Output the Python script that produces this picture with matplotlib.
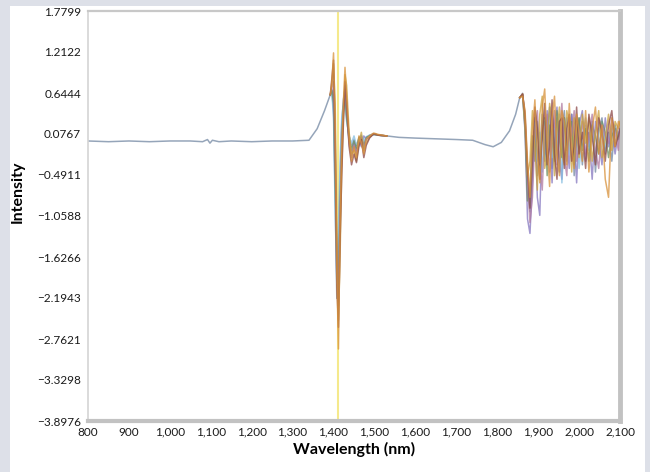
import matplotlib
matplotlib.use('Agg')
import matplotlib.pyplot as plt
from matplotlib.patches import Rectangle

plt.rcParams['font.family'] = ['Lato', 'DejaVu Sans']

# ---- data ----
x_ticks = [800, 900, 1000, 1100, 1200, 1300, 1400, 1500, 1600, 1700, 1800, 1900, 2000, 2100]
y_ticks = [1.7799, 1.2122, 0.6444, 0.0767, -0.4911, -1.0588, -1.6266, -2.1943, -2.7621, -3.3298, -3.8976]
marker_wl = 1410

# shared flat baseline, left part and middle part
wl_left = [800, 850, 900, 950, 1000, 1050, 1080, 1092, 1098, 1104, 1120, 1150, 1200, 1250, 1300, 1340, 1360, 1378, 1392]
base_left = [-0.02, -0.03, -0.02, -0.03, -0.02, -0.02, -0.03, 0.00, -0.05, -0.01, -0.03, -0.02, -0.03, -0.02, -0.02, -0.01, 0.15, 0.40, 0.62]
wl_mid = [1530, 1560, 1600, 1650, 1700, 1740, 1770, 1790, 1810, 1830, 1845, 1855]
base_mid = [0.05, 0.03, 0.02, 0.01, 0.00, -0.01, -0.07, -0.10, -0.04, 0.12, 0.35, 0.58]

# first absorption band (~1400-1530 nm)
wl1 = [1392, 1396, 1400, 1404, 1408, 1412, 1416, 1420, 1424, 1428, 1432, 1438,
       1444, 1450, 1456, 1462, 1468, 1474, 1480, 1488, 1498, 1510, 1530]
band1 = {
    'gray':   [0.62, 0.66, 0.40, -0.80, -2.20, -1.60, -0.60, 0.20, 0.55, 0.70, 0.40, 0.05, -0.10, 0.00, -0.15, -0.05, 0.05, -0.10, 0.02, 0.06, 0.08, 0.06, 0.05],
    'purple': [0.62, 0.70, 0.60, -0.40, -1.90, -2.30, -0.90, 0.10, 0.40, 0.55, 0.35, -0.05, -0.25, -0.05, -0.20, 0.00, -0.10, 0.05, 0.00, 0.04, 0.07, 0.06, 0.05],
    'orange': [0.62, 0.80, 1.20, 0.20, -1.80, -2.90, -1.20, -0.20, 0.50, 1.00, 0.60, 0.00, -0.30, -0.10, -0.25, 0.05, -0.05, -0.20, 0.00, 0.05, 0.09, 0.07, 0.05],
    'gold':   [0.62, 0.75, 1.05, 0.50, -1.20, -2.50, -1.60, -0.40, 0.30, 0.90, 0.75, 0.10, -0.20, -0.15, -0.30, -0.05, 0.10, -0.15, -0.05, 0.03, 0.08, 0.06, 0.05],
    'lblue':  [0.62, 0.64, 0.30, -1.00, -2.00, -1.20, -0.30, 0.30, 0.50, 0.45, 0.25, 0.05, -0.05, 0.05, -0.08, 0.02, 0.06, -0.02, 0.04, 0.06, 0.07, 0.06, 0.05],
    'brown':  [0.62, 0.85, 1.10, 0.00, -2.00, -2.60, -1.40, -0.50, 0.20, 0.80, 0.50, -0.10, -0.35, -0.20, -0.32, -0.10, 0.00, -0.25, -0.08, 0.02, 0.08, 0.06, 0.05],
    'green':  [0.62, 0.68, 0.50, -0.60, -1.60, -2.00, -1.00, 0.00, 0.45, 0.60, 0.30, 0.00, -0.15, -0.02, -0.12, 0.03, 0.02, -0.08, 0.03, 0.05, 0.07, 0.06, 0.05],
    'mauve':  [0.62, 0.72, 0.80, -0.20, -1.50, -2.20, -1.10, -0.10, 0.35, 0.75, 0.45, 0.02, -0.22, -0.08, -0.22, -0.02, 0.04, -0.12, 0.01, 0.04, 0.08, 0.06, 0.05],
}

# second band (~1860-2100 nm)
wl2 = [1855, 1862, 1868, 1874, 1880, 1886, 1892, 1898, 1904, 1910, 1916, 1922, 1928,
       1934, 1940, 1946, 1952, 1958, 1964, 1970, 1976, 1982, 1988, 1994, 2000, 2008,
       2016, 2024, 2032, 2040, 2048, 2056, 2064, 2072, 2080, 2088, 2096, 2100]
band2 = {
    'gray':   [0.58, 0.64, 0.30, -0.70, -1.00, -0.40, 0.20, -0.50, -0.20, 0.35, -0.30, 0.10, 0.45,
               -0.40, 0.00, 0.30, -0.45, 0.10, 0.40, -0.30, 0.05, 0.35, -0.50, 0.00, 0.30, -0.35,
               0.20, -0.10, 0.25, -0.45, 0.15, 0.30, -0.20, 0.10, -0.30, 0.20, 0.05, 0.10],
    'purple': [0.58, 0.62, 0.10, -1.10, -1.30, -0.60, 0.30, -0.80, -1.05, 0.20, -0.20, 0.40, 0.10,
               -0.60, 0.20, 0.45, -0.30, -0.55, 0.30, 0.00, -0.40, 0.35, 0.05, -0.60, 0.20, 0.40,
               -0.30, 0.10, -0.55, 0.25, 0.00, -0.35, 0.30, -0.10, 0.15, -0.20, 0.10, 0.05],
    'orange': [0.58, 0.60, 0.40, -0.30, -0.80, 0.10, 0.55, -0.20, -0.60, 0.45, 0.70, -0.10, -0.65,
               0.30, 0.60, -0.20, -0.50, 0.40, 0.25, -0.35, 0.50, -0.10, -0.40, 0.35, 0.10, -0.30,
               0.40, -0.45, 0.15, 0.45, -0.20, 0.20, -0.55, -0.80, 0.30, -0.10, 0.25, 0.20],
    'gold':   [0.58, 0.63, 0.20, -0.50, -0.30, 0.40, -0.10, -0.70, 0.35, 0.60, -0.40, -0.20, 0.50,
               0.25, -0.50, 0.10, 0.45, -0.20, -0.35, 0.40, 0.20, -0.45, 0.30, 0.15, -0.25, 0.35,
               -0.05, 0.30, -0.30, 0.10, 0.40, -0.25, 0.00, 0.35, -0.15, 0.25, 0.15, 0.25],
    'lblue':  [0.58, 0.61, 0.25, -0.60, -0.90, -0.20, 0.30, -0.30, 0.10, -0.45, 0.25, -0.10, 0.30,
               -0.25, 0.15, -0.15, 0.35, -0.60, 0.05, 0.30, -0.20, 0.10, -0.30, 0.25, -0.40, 0.05,
               0.30, -0.15, 0.20, -0.25, 0.10, 0.25, -0.10, 0.05, 0.20, -0.05, 0.10, 0.05],
    'brown':  [0.58, 0.63, 0.35, -0.40, -0.95, -0.30, 0.45, 0.15, -0.55, 0.05, 0.50, -0.35, -0.10,
               0.55, -0.20, -0.55, 0.25, 0.30, -0.40, 0.15, 0.35, -0.30, -0.10, 0.45, -0.20, 0.10,
               -0.40, 0.35, 0.05, -0.35, 0.30, 0.10, -0.30, 0.20, 0.40, -0.10, 0.05, 0.15],
    'green':  [0.58, 0.62, 0.15, -0.85, -0.70, 0.05, -0.30, 0.25, -0.35, 0.10, 0.30, -0.50, 0.20,
               0.05, -0.30, 0.40, 0.00, -0.25, 0.30, -0.15, 0.10, 0.25, -0.35, 0.05, 0.30, -0.15,
               0.15, -0.30, 0.20, 0.05, -0.20, 0.25, 0.10, -0.25, 0.05, 0.15, 0.00, 0.10],
    'mauve':  [0.58, 0.63, 0.30, -0.55, -1.15, -0.80, 0.05, 0.40, -0.25, -0.70, 0.15, 0.35, -0.45,
               0.00, 0.40, -0.35, 0.10, 0.50, -0.25, -0.50, 0.30, 0.05, 0.40, -0.30, -0.10, 0.25,
               -0.20, 0.00, 0.35, -0.15, -0.40, 0.20, 0.05, -0.05, 0.30, 0.10, -0.15, 0.25],
}

colors = {
    'gray': '#8a9bb2', 'purple': '#8577c0', 'orange': '#d8913a', 'gold': '#c9a03c',
    'lblue': '#86bde0', 'brown': '#8c4848', 'green': '#6f8f5f', 'mauve': '#b07aa1',
}

# ---- figure ----
fig = plt.figure(figsize=(6.5, 4.72), dpi=100, facecolor='#dde0e8')
# white panel behind the axes
fig.patches.append(Rectangle((10 / 650, 0), 635 / 650, 466 / 472, transform=fig.transFigure,
                             facecolor='white', edgecolor='none', zorder=-5))

ax = fig.add_axes([88 / 650, 1 - 421 / 472, 532 / 650, 410 / 472])
ax.set_zorder(2)
ax.set_facecolor('white')

ax.axvline(marker_wl, color='#f5e98c', lw=1.5, zorder=1)

# full reference spectrum (shared baseline)
full_wl = wl_left + wl1[1:] + wl_mid[1:] + wl2[1:]
full_val = base_left + band1['gray'][1:] + base_mid[1:] + band2['gray'][1:]
ax.plot(full_wl, full_val, color=colors['gray'], lw=1.1, alpha=0.9, zorder=2)

for name in ['purple', 'lblue', 'green', 'mauve', 'gold', 'brown', 'orange']:
    ax.plot(wl1, band1[name], color=colors[name], lw=1.1, alpha=0.75, zorder=3)
    ax.plot(wl2, band2[name], color=colors[name], lw=1.1, alpha=0.75, zorder=3)

ax.set_xlim(800, 2100)
ax.set_ylim(-3.8976, 1.7799)
ax.set_xticks(x_ticks)
ax.set_xticklabels([f"{v:,}" for v in x_ticks])
ax.set_yticks(y_ticks)
ax.set_yticklabels([f"{v:.4f}".replace('-', '\u2212') for v in y_ticks])
ax.tick_params(axis='both', length=0, labelsize=8.5, colors='#1a1a1a')
ax.tick_params(axis='y', pad=5)
ax.tick_params(axis='x', pad=4)

ax.spines['left'].set_color('#d4d4d4')
ax.spines['left'].set_linewidth(1.2)
ax.spines['top'].set_color('#c8c8c8')
ax.spines['top'].set_linewidth(1.6)
ax.spines['right'].set_color('#c2c2c2')
ax.spines['right'].set_linewidth(3.5)
ax.spines['bottom'].set_color('#c2c2c2')
ax.spines['bottom'].set_linewidth(3.0)

ax.set_xlabel('Wavelength (nm)', fontsize=11.5, fontweight='bold', labelpad=3)
ax.set_ylabel('Intensity', fontsize=11.5, fontweight='bold')
ax.yaxis.set_label_coords(-0.118, 0.56)

fig.savefig('out.png', dpi=100, facecolor=fig.get_facecolor())
